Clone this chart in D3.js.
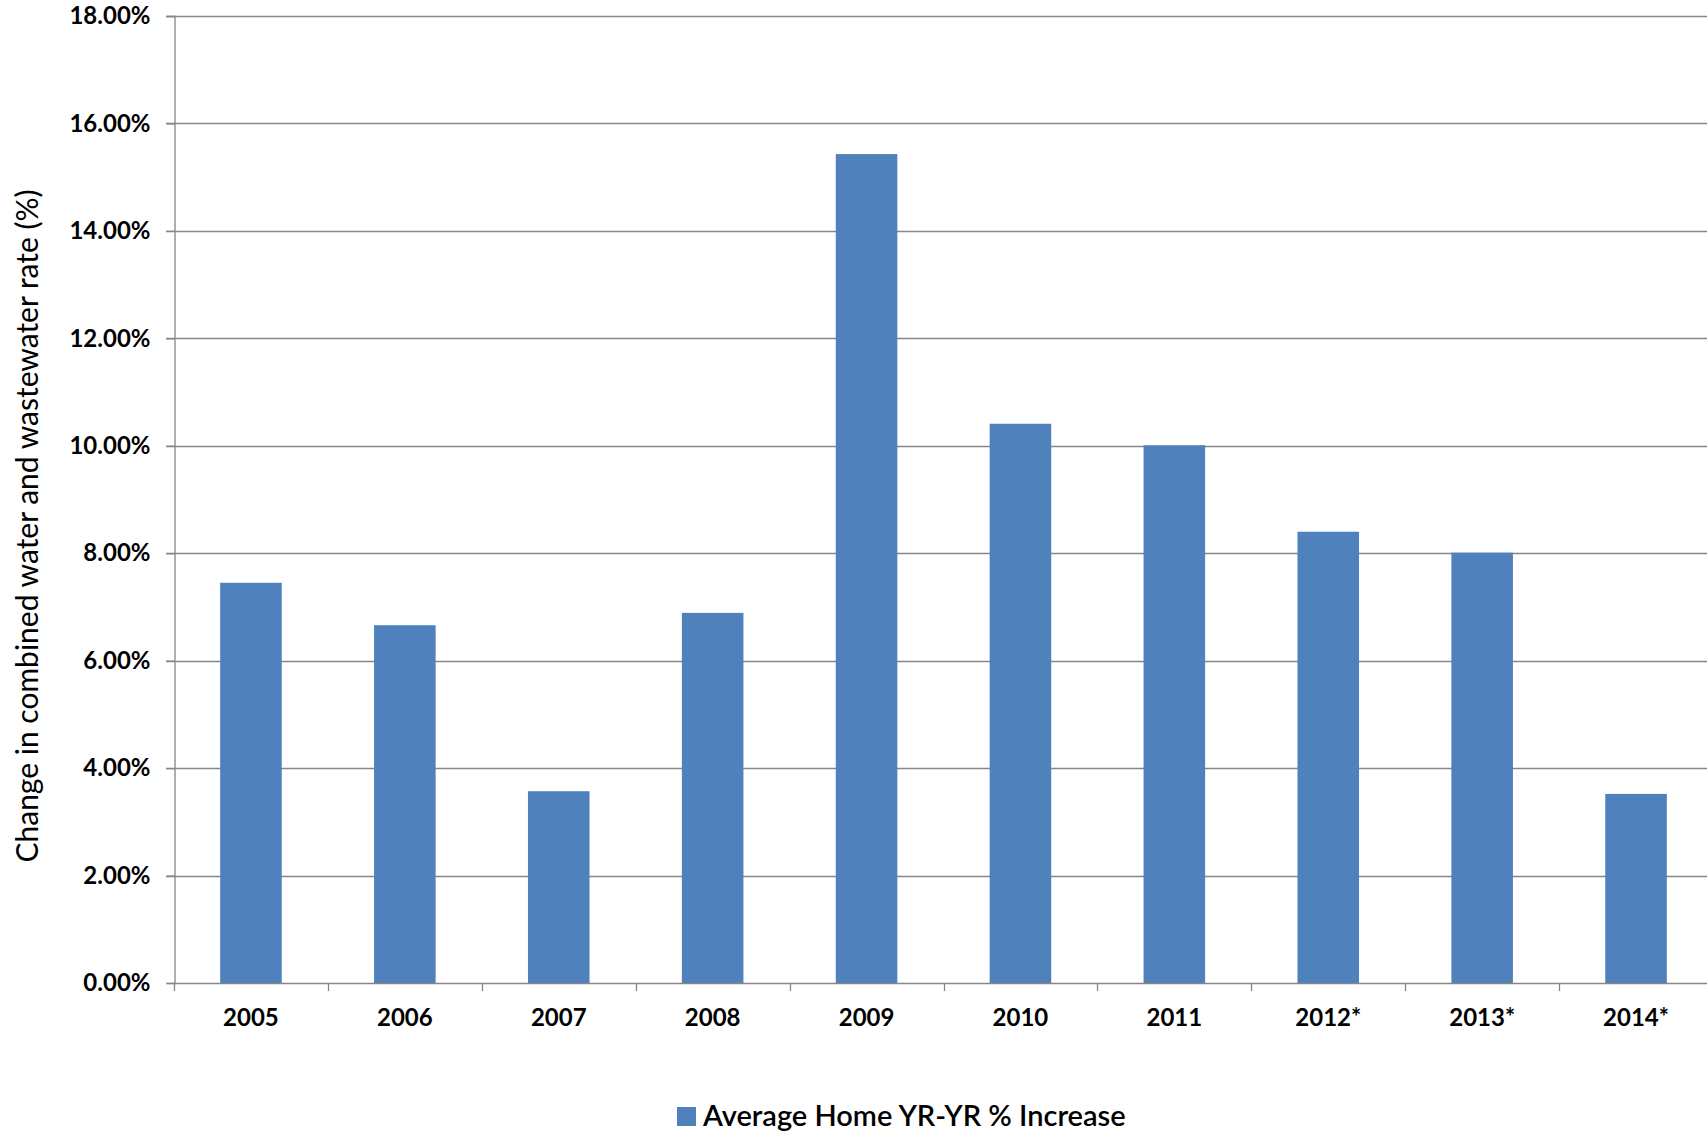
<!DOCTYPE html>
<html><head><meta charset="utf-8">
<script src="https://cdn.jsdelivr.net/npm/d3@7"></script>
<style>body{margin:0;background:#fff;overflow:hidden}svg{display:block}</style>
</head><body>
<script>
const categories = ["2005","2006","2007","2008","2009","2010","2011","2012*","2013*","2014*"];
const values = [7.45, 6.66, 3.57, 6.89, 15.43, 10.41, 10.01, 8.40, 8.01, 3.52];
const yTicks = [0, 2, 4, 6, 8, 10, 12, 14, 16, 18];
const seriesName = "Average Home YR-YR % Increase";
const yTitle = "Change in combined water and wastewater rate (%)";

const W = 1707, H = 1131;
const svg = d3.select("body").append("svg").attr("width", W).attr("height", H);
const x = d3.scaleBand().domain(categories).range([174, 1713]).paddingInner(0.6).paddingOuter(0.3);
const y = d3.scaleLinear().domain([0, 18]).range([983, 16]);
const grid = "#868686";
const font = "Lato, 'Liberation Sans', sans-serif";

// gridlines
svg.append("g").selectAll("line").data(yTicks.filter(d => d > 0)).join("line")
  .attr("x1", 166).attr("x2", W).attr("y1", d => Math.round(y(d)) + 0.5).attr("y2", d => Math.round(y(d)) + 0.5)
  .attr("stroke", grid).attr("stroke-width", 1.3);

// y axis
const yAxis = svg.append("g").attr("transform", "translate(174.5,0)")
  .call(d3.axisLeft(y).tickValues(yTicks).tickSize(8).tickPadding(16).tickFormat(d => d.toFixed(2) + "%"));
yAxis.select(".domain").attr("stroke", grid).attr("stroke-width", 1.3);
yAxis.selectAll(".tick line").attr("stroke", grid).attr("stroke-width", 1.3);
yAxis.selectAll("text").attr("font-family", font).attr("font-weight", "bold").attr("font-size", 24).attr("fill", "#000");

// bars
svg.append("g").selectAll("rect").data(values).join("rect")
  .attr("x", (d, i) => x(categories[i])).attr("width", x.bandwidth())
  .attr("y", d => y(d)).attr("height", d => y(0) - y(d))
  .attr("fill", "#4F81BD");

// x axis
const xb = d3.scaleBand().domain(categories).range([174, 1713]);
const xAxis = svg.append("g").attr("transform", "translate(0," + (Math.round(y(0)) + 0.5) + ")")
  .call(d3.axisBottom(xb).tickSize(0).tickPadding(25));
xAxis.select(".domain").attr("d", "M174," + 0 + "H" + W).attr("stroke", grid).attr("stroke-width", 1.3);
xAxis.selectAll("text").attr("font-family", font).attr("font-weight", "bold").attr("font-size", 24).attr("fill", "#000");
// category boundary ticks
svg.append("g").selectAll("line").data(categories.map((c, i) => i)).join("line")
  .attr("x1", i => Math.round(xb(categories[i])) + 0.5).attr("x2", i => Math.round(xb(categories[i])) + 0.5)
  .attr("y1", Math.round(y(0))).attr("y2", Math.round(y(0)) + 8)
  .attr("stroke", grid).attr("stroke-width", 1.3);

// y title
svg.append("text").attr("transform", "translate(38,526) rotate(-90)")
  .attr("text-anchor", "middle").attr("font-family", font).attr("font-size", 30).attr("fill", "#000")
  .text(yTitle);

// legend
const lg = svg.append("g").attr("transform", "translate(677,1107)");
lg.append("rect").attr("width", 19).attr("height", 19).attr("fill", "#4F81BD");
lg.append("text").attr("x", 26).attr("y", 19).attr("font-family", font).attr("font-weight", "600").attr("font-size", 29).attr("fill", "#000").text(seriesName);
</script>
</body></html>
